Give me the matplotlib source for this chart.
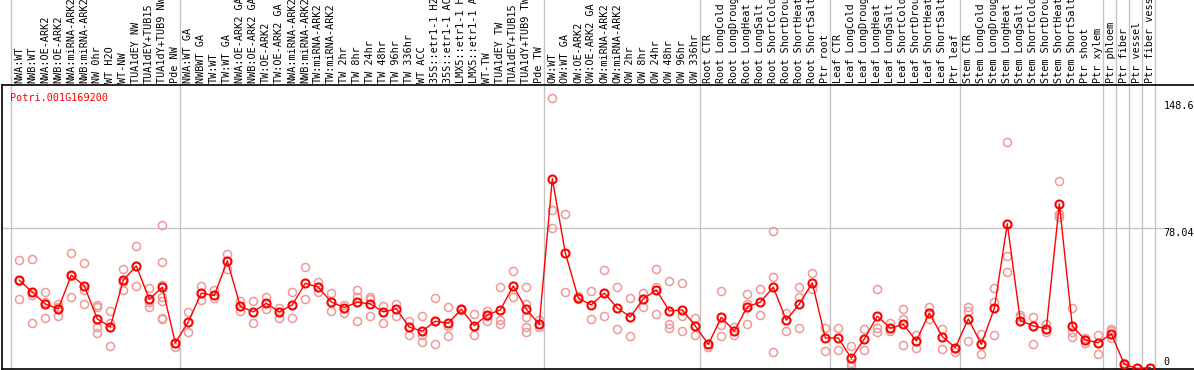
import matplotlib
matplotlib.use("Agg")
import matplotlib.pyplot as plt
import matplotlib.transforms as mtransforms

gene = "Potri.001G169200"

labels = [
    "NWA:WT", "NWB:WT", "NWA:OE-ARK2", "NWB:OE-ARK2", "NWA:miRNA-ARK2", "NWB:miRNA-ARK2",
    "NW 0hr", "WT H2O", "WT-NW", "TUA1dEY NW", "TUA1dEY+TUB15", "TUA1dY+TUB9 NW", "Pde NW",
    "NWA:WT GA", "NWBWT GA", "TW:WT", "TW:WT GA", "NWA:OE-ARK2 GA", "NWB:OE-ARK2 GA",
    "TW:OE-ARK2", "TW:OE-ARK2 GA", "NWA:miRNA-ARK2", "NWB:miRNA-ARK2", "TW:miRNA-ARK2",
    "TW:miRNA-ARK2", "TW 2hr", "TW 8hr", "TW 24hr", "TW 48hr", "TW 96hr", "TW 336hr",
    "WT ACC", "35S::etr1-1 H2", "35S::etr1-1 AC", "LMX5::etr1-1 H", "LMX5::etr1-1 A",
    "WT-TW", "TUA1dEY TW", "TUA1dEY+TUB15", "TUA1dY+TUB9 TW", "Pde TW",
    "OW:WT", "OW:WT GA", "OW:OE-ARK2", "OW:OE-ARK2 GA", "OW:miRNA-ARK2", "OW:miRNA-ARK2",
    "OW 2hr", "OW 8hr", "OW 24hr", "OW 48hr", "OW 96hr", "OW 336hr",
    "Root CTR", "Root LongCold", "Root LongDroug", "Root LongHeat", "Root LongSalt",
    "Root ShortCold", "Root ShortDrou", "Root ShortHeat", "Root ShortSalt", "Ptr root",
    "Leaf CTR", "Leaf LongCold", "Leaf LongDroug", "Leaf LongHeat", "Leaf LongSalt",
    "Leaf ShortCold", "Leaf ShortDrou", "Leaf ShortHeat", "Leaf ShortSalt", "Ptr leaf",
    "Stem CTR", "Stem LongCold", "Stem LongDroug", "Stem LongHeat", "Stem LongSalt",
    "Stem ShortCold", "Stem ShortDrou", "Stem ShortHeat", "Stem ShortSalt", "Ptr shoot",
    "Ptr xylem", "Ptr phloem", "Ptr fiber", "Ptr vessel", "Ptr fiber vess",
]

means = [
    49.0, 42.3, 35.8, 33.1, 51.8, 45.8, 27.5, 23.1, 49.0, 56.9, 38.4, 45.1, 14.2,
    25.8, 41.8, 40.5, 59.7, 34.5, 31.4, 36.2, 31.4, 35.3, 47.3, 45.1, 36.9, 33.8,
    36.8, 35.8, 31.4, 33.1, 22.9, 20.7, 26.2, 25.1, 32.9, 23.8, 29.7, 32.5, 45.8,
    32.9, 24.5,
    105.3, 64.2, 39.0, 35.3, 41.8, 33.6, 28.6, 38.6, 43.6, 31.9, 32.5, 23.6,
    13.4, 28.4, 20.7, 34.2, 36.8, 45.1, 26.8, 35.8, 47.5, 16.9,
    16.9, 5.7, 16.4, 29.0, 22.3, 24.5, 15.3, 30.7, 17.7, 11.6,
    27.5, 13.4, 33.4, 80.3, 26.6, 23.6, 22.1, 91.4, 23.6, 15.8, 14.3,
    19.2, 2.3, 0.0, 0.5,
]

reps = [
    [60.1, 38.6, 48.5], [60.7, 25.1, 41.0], [42.3, 28.1, 37.0], [35.8, 29.3, 34.0],
    [64.0, 39.9, 51.5], [58.4, 35.7, 43.6], [35.1, 34.3, 22.9, 19.6], [31.8, 12.5, 25.0],
    [55.1, 43.6, 48.0], [67.9, 45.7, 57.0], [44.6, 34.0, 37.0],
    [79.6, 59.0, 46.4, 39.9, 37.5, 28.1, 27.5], [14.2, 12.1],
    [31.2, 20.1], [45.8, 38.1], [43.6, 39.0], [63.6, 55.3], [37.3, 32.1], [37.3, 25.1],
    [39.7, 32.9], [33.8, 28.2], [42.3, 28.1], [56.2, 38.6], [47.9, 42.3], [41.8, 31.8],
    [35.3, 30.7], [43.6, 39.9, 26.2], [39.9, 38.6, 29.0], [34.7, 25.1], [35.8, 29.3],
    [26.2, 18.8], [29.0, 18.8, 14.6], [39.2, 13.4], [34.0, 23.6, 17.9], [32.5, 33.0],
    [30.1, 18.4], [31.8, 29.3, 26.6], [45.1, 26.9, 24.7], [54.2, 39.9],
    [45.4, 35.8, 28.4, 22.9, 20.1], [26.9, 22.9],
    [150.1, 87.7, 78.1], [85.8, 42.5], [40.3, 38.4], [42.9, 27.3], [54.7, 29.0],
    [45.1, 21.8], [39.2, 17.9], [42.1, 34.3], [55.1, 45.4, 30.1], [48.6, 24.6, 22.3],
    [47.5, 29.0, 20.7], [28.1, 18.4],
    [12.1, 13.4], [42.9, 24.0, 17.9], [22.9, 18.8], [41.4, 35.8, 24.6], [44.3, 29.6],
    [76.2, 50.7, 9.0], [30.7, 20.7], [45.1, 39.7, 22.5], [53.1, 44.0], [22.3, 9.5],
    [22.3, 10.1], [12.5, 2.9, 1.4], [21.9, 10.1], [44.2, 22.7, 20.1], [25.1, 21.0],
    [32.9, 27.5, 12.9], [18.4, 11.6], [34.0, 27.5], [21.8, 10.8], [9.0, 11.6],
    [34.3, 32.1, 15.3], [19.2, 8.2], [44.6, 36.8, 18.4], [125.7, 62.5, 53.6],
    [29.6, 28.4], [28.4, 13.4], [24.7, 20.1], [104.2, 85.8, 84.0], [33.4, 20.1, 17.7],
    [16.8, 14.3], [18.8, 8.1], [21.9, 20.7, 16.8], [2.9, 1.0], [0.0], [0.5],
]

# last column index of each group (group separators)
group_ends = [0, 13, 41, 53, 63, 73, 84, 85, 86, 87, 88]

ymax_label = 148.6
ymid_label = 78.04

red = "#ff0000"
pink = "#f09898"
grid = "#c4c4c4"
mono = "DejaVu Sans Mono"

fig = plt.figure(figsize=(11.94, 3.70), dpi=100)
ax = fig.add_axes([2 / 1194, 1 / 370, 1192 / 1194, 284 / 370])

xs = list(range(1, len(means) + 1))

rx, ry = [], []
for x, r in zip(xs, reps):
    for v in r:
        rx.append(x)
        ry.append(v)
ax.plot(rx, ry, "o", ms=5.8, mfc="none", mec=pink, mew=1.1, zorder=2)
ax.plot(xs, means, "-", color=red, lw=1.0, zorder=3)
ax.plot(xs, means, "o", ms=5.8, mfc="none", mec=red, mew=1.5, zorder=4)

ax.set_xlim(-0.33, 91.36)
ax.set_ylim(-0.3, 157.3)

# vertical group separators, running up through the label strip
# (points sit a little right of the cell centre, as in the original)
for k in group_ends:
    ax.axvline(k + 0.385, ymin=0, ymax=369 / 284, color=grid, lw=1, clip_on=False, zorder=1)
ax.plot([-0.33, 88.95], [ymid_label, ymid_label], color=grid, lw=1, zorder=1)

trans = mtransforms.blended_transform_factory(ax.transData, ax.transAxes)
for x, lab in zip(xs, labels):
    ax.text(x, 1 + 2 / 284, lab, rotation=90, ha="center", va="bottom",
            family=mono, fontsize=7.3, transform=trans, clip_on=False)

ax.text(89.0, ymax_label, f"{ymax_label:g}", ha="left", va="top", family=mono, fontsize=7.3)
ax.text(89.0, ymid_label, f"{ymid_label:g}", ha="left", va="top", family=mono, fontsize=7.3)
ax.text(89.0, 0.8, "0", ha="left", va="bottom", family=mono, fontsize=7.3)

ax.text(8 / 1192, 0.955, gene, color=red, ha="left", va="center",
        family=mono, fontsize=7.3, transform=ax.transAxes)

ax.set_xticks([])
ax.set_yticks([])
ax.spines["right"].set_visible(False)
for s in ("left", "top", "bottom"):
    ax.spines[s].set_color("black")
    ax.spines[s].set_linewidth(1.2)

fig.savefig("out.png", dpi=100)
